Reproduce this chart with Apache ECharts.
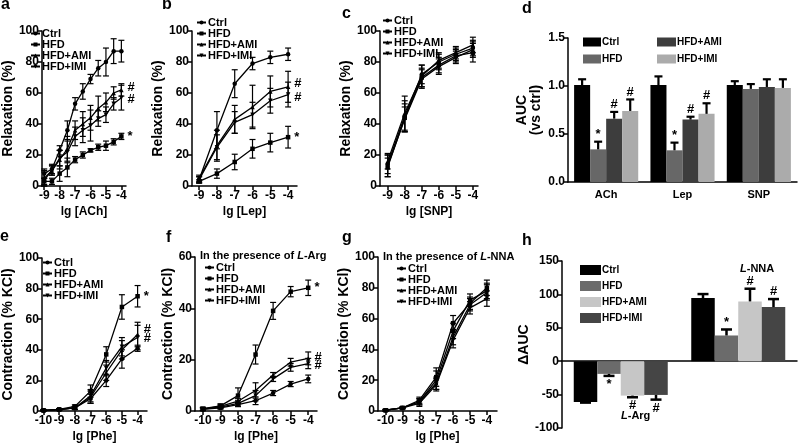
<!DOCTYPE html>
<html><head><meta charset="utf-8">
<script src="https://cdn.jsdelivr.net/npm/echarts@6/dist/echarts.min.js"></script>
<style>html,body{margin:0;padding:0;background:#fff}#c{width:800px;height:444px}</style>
</head><body><div id="c"></div>
<script>
const FONT = 'Liberation Sans';
const GROUPS = ['Ctrl', 'HFD', 'HFD+AMI', 'HFD+IMI'];

// ---- panel a (ACh) ----
const aX = [-9, -8.5, -8, -7.5, -7, -6.5, -6, -5.5, -5, -4.5, -4];
const aCtrl = [8, 11, 23, 36, 53, 61, 69, 76, 80, 87, 87];
const aCtrlErr = [3, 3, 3, 6, 4, 5, 3, 5, 9, 8, 7];
const aHFD = [3, 3, 8, 12, 17, 20, 23, 25, 26, 28.5, 32];
const aHFDErr = [2, 2, 5, 6, 2, 2, 1, 2, 3, 2, 2];
const aAMI = [5, 10, 17, 24, 36, 40, 44, 50, 54, 60, 62];
const aAMIErr = [5, 3, 6, 8, 6, 8, 8, 8, 6, 4, 4];
const aIMI = [4, 10, 18, 22, 32, 36, 39, 43.5, 46, 53, 57];
const aIMIErr = [5, 3, 5, 7, 6, 8, 10, 5, 5, 4, 8];

// ---- panel b (Lep) ----
const bX = [-9, -8, -7, -6, -5, -4];
const bCtrl = [4, 36, 66, 79, 83, 85];
const bCtrlErr = [2, 12, 9, 4, 4, 4];
const bHFD = [3, 8, 15.5, 24, 28, 31.5];
const bHFDErr = [1, 3, 5, 6, 6, 7];
const bAMI = [5, 26, 43, 51, 61, 64];
const bAMIErr = [2, 10, 9, 14, 10, 10];
const bIMI = [4, 25, 41, 46, 55, 59];
const bIMIErr = [2, 8, 7, 8, 8, 8];

// ---- panel c (SNP) ----
const cX = [-9, -8, -7, -6, -5, -4];
const cCtrl = [14, 45, 72, 80, 85, 89];
const cCtrlErr = [6, 10, 6, 5, 4, 5];
const cHFD = [12, 44, 70, 78, 84, 86];
const cHFDErr = [6, 9, 6, 5, 4, 6];
const cAMI = [16, 47, 71, 81, 86, 91];
const cAMIErr = [5, 11, 7, 5, 4, 5];
const cIMI = [13, 43, 69, 77, 83, 88];
const cIMIErr = [7, 8, 6, 5, 4, 5];

// ---- panel d (AUC bars) ----
const dCats = ['ACh', 'Lep', 'SNP'];
const dCtrl = [1.01, 1.01, 1.01];
const dCtrlErr = [0.06, 0.09, 0.04];
const dHFD = [0.34, 0.33, 0.97];
const dHFDErr = [0.08, 0.08, 0.05];
const dAMI = [0.66, 0.65, 0.99];
const dAMIErr = [0.07, 0.03, 0.08];
const dIMI = [0.74, 0.71, 0.98];
const dIMIErr = [0.12, 0.11, 0.09];
const dHFDMarks = ['*', '*', ''];
const dAMIMarks = ['#', '#', ''];
const dIMIMarks = ['#', '#', ''];

// ---- panel e (Phe) ----
const eX = [-10, -9, -8, -7, -6, -5, -4];
const eCtrl = [0.3, 0.8, 2, 8, 20, 34, 41];
const eCtrlErr = [0.5, 0.5, 1, 3, 4, 6, 2];
const eHFD = [0.5, 1, 3, 13, 37, 68, 75];
const eHFDErr = [0.5, 0.5, 1, 4, 5, 8, 7];
const eAMI = [0.3, 1, 2, 9, 25, 40, 50];
const eAMIErr = [0.5, 0.5, 1, 4, 5, 6, 8];
const eIMI = [0.3, 1, 2, 10, 28, 42, 48];
const eIMIErr = [0.5, 0.5, 1, 4, 5, 6, 8];

// ---- panel f (Phe + L-Arg) ----
const fX = [-10, -9, -8, -7, -6, -5, -4];
const fCtrl = [0.6, 1.2, 2.5, 4, 7, 10.5, 12.5];
const fCtrlErr = [0.5, 0.5, 0.8, 1.5, 1, 1, 1.5];
const fHFD = [0.9, 2, 6, 22, 39, 46.5, 48];
const fHFDErr = [0.6, 0.8, 3, 3.7, 3.3, 2, 3];
const fAMI = [0.8, 1.8, 3.8, 8, 14, 19, 20.5];
const fAMIErr = [0.5, 0.6, 1, 3, 1, 1.5, 2.5];
const fIMI = [0.7, 1.5, 3, 6, 12.5, 17, 18.5];
const fIMIErr = [0.5, 0.5, 1, 2, 1, 1.5, 2];

// ---- panel g (Phe + L-NNA) ----
const gX = [-10, -9, -8, -7, -6, -5, -4];
const gCtrl = [0.5, 2, 6, 20, 52, 72, 78];
const gCtrlErr = [0.5, 0.5, 2, 6, 5, 4, 5];
const gHFD = [0.5, 2, 7, 22, 57, 70, 80];
const gHFDErr = [0.5, 0.5, 2, 6, 5, 4, 5];
const gAMI = [0.5, 2, 6, 18, 48, 69, 77];
const gAMIErr = [0.5, 0.5, 2, 4, 5, 4, 5];
const gIMI = [0.5, 2, 5, 17, 46, 67, 73];
const gIMIErr = [0.5, 0.5, 2, 4, 5, 4, 5];

// ---- panel h (delta AUC bars) ----
const hCats = ['L-Arg', 'L-NNA'];
const hCtrl = [-61, 94.5];
const hCtrlErr = [1, 6];
const hHFD = [-19, 38.5];
const hHFDErr = [3, 9];
const hAMI = [-51.5, 89.5];
const hAMIErr = [2.5, 19];
const hIMI = [-50.5, 81];
const hIMIErr = [7, 12];
const hHFDMarks = ['*', '*'];
const hAMIMarks = ['#', '#'];
const hIMIMarks = ['#', '#'];

// ================= builders =================
const SYMS = [['circle', 0], ['rect', 0], ['triangle', 0], ['triangle', 180]];

function lineSeries(gi, p, k, xs, ys, mark, off) {
  const data = xs.map((x, i) => [x, ys[i]]);
  if (mark) {
    const l = data.length - 1;
    data[l] = { value: data[l], label: { show: true, position: 'right', distance: 4, offset: off || [0, 0],
      formatter: mark, fontFamily: FONT, fontWeight: 'bold', fontSize: 13, color: '#000' } };
  }
  return { type: 'line', name: p + ':' + GROUPS[k], xAxisIndex: gi, yAxisIndex: gi, data,
    symbol: SYMS[k][0], symbolRotate: SYMS[k][1], symbolSize: 4.5, showSymbol: true,
    lineStyle: { color: '#000', width: 1.3 }, itemStyle: { color: '#000' }, label: { show: false },
    emphasis: { disabled: true }, animation: false, z: 3 };
}
function seg(x1, y1, x2, y2, w) {
  return { type: 'line', shape: { x1, y1, x2, y2 }, style: { stroke: '#000', lineWidth: w } };
}
function errSeries(gi, xs, ys, es) {
  return { type: 'custom', xAxisIndex: gi, yAxisIndex: gi, silent: true, animation: false, z: 4,
    encode: { x: 0, y: 1 },
    data: xs.map((x, i) => [x, ys[i], es[i]]),
    renderItem: (p, api) => {
      const x = api.value(0), y = api.value(1), e = api.value(2);
      const a = api.coord([x, y + e]), b = api.coord([x, Math.max(0, y - e)]);
      const w = 3;
      return { type: 'group', children: [seg(a[0], a[1], b[0], b[1], 1.2), seg(a[0] - w, a[1], a[0] + w, a[1], 1.2), seg(b[0] - w, b[1], b[0] + w, b[1], 1.2)] };
    } };
}
function linePanel(gi, p, xs, sets, marks, offs) {
  const out = [];
  sets.forEach((s, k) => { out.push(lineSeries(gi, p, k, xs, s[0], marks[k], offs[k])); });
  sets.forEach((s) => { out.push(errSeries(gi, xs, s[0], s[1])); });
  return out;
}
function barSeries(gi, p, k, vals, color, gap) {
  return { type: 'bar', name: p + ':' + GROUPS[k], xAxisIndex: gi, yAxisIndex: gi, data: vals,
    itemStyle: { color }, barGap: '0%', barCategoryGap: gap, animation: false, emphasis: { disabled: true }, z: 2 };
}
function barErrSeries(gi, k, vals, errs, marks, gapFrac, capW, lw) {
  return { type: 'custom', xAxisIndex: gi, yAxisIndex: gi, silent: true, animation: false, z: 5,
    encode: { x: 0, y: 1 },
    data: vals.map((v, i) => [i, v, errs[i]]),
    renderItem: (p, api) => {
      const i = api.value(0), v = api.value(1), e = api.value(2);
      const band = api.size([1, 0])[0];
      const group = band * (1 - gapFrac), bw = group / 4;
      const base = api.coord([i, v]);
      const cx = base[0] - group / 2 + (k + 0.5) * bw;
      const sg = v >= 0 ? 1 : -1;
      const tip = api.coord([i, v + sg * e]);
      const ch = [seg(cx, base[1], cx, tip[1], lw), seg(cx - capW / 2, tip[1], cx + capW / 2, tip[1], lw)];
      const m = marks ? marks[p.dataIndex] : '';
      if (m) {
        ch.push({ type: 'text', style: { text: m, x: cx, y: sg > 0 ? tip[1] - 1 : tip[1] + 2,
          align: 'center', verticalAlign: sg > 0 ? 'bottom' : 'top', fill: '#000',
          font: 'bold 13px "' + FONT + '"' } });
      }
      return { type: 'group', children: ch };
    } };
}

// ================= axes =================
const axLine = { show: true, onZero: false, lineStyle: { color: '#000', width: 1.5 } };
const axTick = { show: true, length: 4, lineStyle: { color: '#000', width: 1.5 } };
const lblStyle = { color: '#000', fontFamily: FONT, fontWeight: 'bold', fontSize: 12 };
const grids = [
  { left: 27, top: 31, width: 99, height: 155 },
  { left: 192, top: 31, width: 105, height: 155 },
  { left: 380, top: 31, width: 98, height: 155 },
  { left: 568, top: 38, width: 229, height: 144 },
  { left: 33, top: 258, width: 114, height: 157 },
  { left: 195, top: 257, width: 122, height: 160 },
  { left: 378, top: 257, width: 119, height: 160 },
  { left: 562, top: 261, width: 235, height: 167 }
];
function xVal(gi, min, max, ticks, name) {
  return { type: 'value', gridIndex: gi, min, max, splitLine: { show: false },
    axisLine: axLine, axisTick: Object.assign({ customValues: ticks }, axTick),
    axisLabel: Object.assign({ customValues: ticks, margin: 4 }, lblStyle),
    name, nameLocation: 'middle', nameGap: 20,
    nameTextStyle: { color: '#000', fontFamily: FONT, fontWeight: 'bold', fontSize: 12 } };
}
function yVal(gi, min, max, interval, name, gap, fmt) {
  return { type: 'value', gridIndex: gi, min, max, interval, splitLine: { show: false },
    axisLine: Object.assign({}, axLine), axisTick: axTick,
    axisLabel: Object.assign({ margin: 3, formatter: fmt }, lblStyle),
    name, nameLocation: 'middle', nameGap: gap,
    nameTextStyle: { color: '#000', fontFamily: FONT, fontWeight: 'bold', fontSize: 14, lineHeight: 14 } };
}
const t9 = [-9, -8, -7, -6, -5, -4];
const t10 = [-10, -9, -8, -7, -6, -5, -4];
const xAxes = [
  xVal(0, -9.15, -3.7, t9, 'lg [ACh]'),
  xVal(1, -9.4, -3.5, t9, 'lg [Lep]'),
  xVal(2, -9.45, -3.7, t9, 'lg [SNP]'),
  { type: 'category', gridIndex: 3, data: dCats, axisLine: axLine, axisTick: { show: false },
    axisLabel: Object.assign({ margin: 7 }, lblStyle, { fontSize: 11 }) },
  xVal(4, -10.1, -3.4, t10, 'lg [Phe]'),
  xVal(5, -10.45, -3.5, t10, 'lg [Phe]'),
  xVal(6, -10.45, -3.4, t10, 'lg [Phe]'),
  { type: 'category', gridIndex: 7, data: hCats, axisLine: { show: true, onZero: true, lineStyle: { color: '#000', width: 1.5 } },
    axisTick: { show: false }, axisLabel: { show: false } }
];
const yAxes = [
  yVal(0, 0, 100, 20, 'Relaxation (%)', 12),
  yVal(1, 0, 100, 20, 'Relaxation (%)', 12),
  yVal(2, 0, 100, 20, 'Relaxation (%)', 15),
  yVal(3, 0, 1.5, 0.5, 'AUC\n(vs ctrl)', 25, v => v.toFixed(1)),
  yVal(4, 0, 100, 20, 'Contraction (% KCl)', 18),
  yVal(5, 0, 60, 20, 'Contraction (% KCl)', 10),
  yVal(6, 0, 100, 20, 'Contraction (% KCl)', 13),
  yVal(7, -100, 150, 50, '\u0394AUC', 17)
];

// ================= series =================
let series = [];
series = series.concat(linePanel(0, 'a', aX, [[aCtrl, aCtrlErr], [aHFD, aHFDErr], [aAMI, aAMIErr], [aIMI, aIMIErr]], ['', '*', '#', '#'], [null, null, [0, -2], [0, 2]]));
series = series.concat(linePanel(1, 'b', bX, [[bCtrl, bCtrlErr], [bHFD, bHFDErr], [bAMI, bAMIErr], [bIMI, bIMIErr]], ['', '*', '#', '#'], [null, null, [0, -3], [0, 3]]));
series = series.concat(linePanel(2, 'c', cX, [[cCtrl, cCtrlErr], [cHFD, cHFDErr], [cAMI, cAMIErr], [cIMI, cIMIErr]], ['', '', '', ''], [null, null, null, null]));
series = series.concat(linePanel(4, 'e', eX, [[eCtrl, eCtrlErr], [eHFD, eHFDErr], [eAMI, eAMIErr], [eIMI, eIMIErr]], ['', '*', '#', '#'], [null, null, [0, -5], [0, 1]]));
series = series.concat(linePanel(5, 'f', fX, [[fCtrl, fCtrlErr], [fHFD, fHFDErr], [fAMI, fAMIErr], [fIMI, fIMIErr]], ['', '*', '#', '#'], [null, null, [0, -1], [0, 2]]));
series = series.concat(linePanel(6, 'g', gX, [[gCtrl, gCtrlErr], [gHFD, gHFDErr], [gAMI, gAMIErr], [gIMI, gIMIErr]], ['', '', '', ''], [null, null, null, null]));

const dColors = ['#000000', '#676767', '#3d3d3d', '#ababab'];
const hColors = ['#000000', '#6b6b6b', '#c6c6c6', '#454545'];
const dSets = [[dCtrl, dCtrlErr, null], [dHFD, dHFDErr, dHFDMarks], [dAMI, dAMIErr, dAMIMarks], [dIMI, dIMIErr, dIMIMarks]];
const hSets = [[hCtrl, hCtrlErr, null], [hHFD, hHFDErr, hHFDMarks], [hAMI, hAMIErr, hAMIMarks], [hIMI, hIMIErr, hIMIMarks]];
dSets.forEach((s, k) => { series.push(barSeries(3, 'd', k, s[0], dColors[k], '16%')); });
dSets.forEach((s, k) => { series.push(barErrSeries(3, k, s[0], s[1], s[2], 0.16, 8, 2.2)); });
hSets.forEach((s, k) => { series.push(barSeries(7, 'h', k, s[0], hColors[k], '20%')); });
hSets.forEach((s, k) => { series.push(barErrSeries(7, k, s[0], s[1], s[2], 0.20, 11, 2.5)); });

// ================= legends =================
const strip = n => n.slice(2);
function lineLegend(p, left, top) {
  return { left, top, orient: 'vertical', selectedMode: false, padding: 0, itemGap: 0,
    itemWidth: 9, itemHeight: 5, formatter: strip, data: GROUPS.map(g => p + ':' + g),
    textStyle: { color: '#000', fontFamily: FONT, fontWeight: 'bold', fontSize: 11, lineHeight: 10, padding: [0, 0, 0, -3] } };
}
function barLegend(p, groups, left, top, w, h, gap) {
  return { left, top, orient: 'vertical', selectedMode: false, padding: 0, itemGap: gap, icon: 'rect',
    itemWidth: w, itemHeight: h, formatter: strip, data: groups.map(g => p + ':' + g),
    textStyle: { color: '#000', fontFamily: FONT, fontWeight: 'bold', fontSize: 10, padding: [0, 0, 0, -4] } };
}
const legends = [
  lineLegend('a', 30, 28), lineLegend('b', 196, 17), lineLegend('c', 382, 15),
  lineLegend('e', 42, 257), lineLegend('f', 204, 262), lineLegend('g', 396, 263),
  barLegend('d', ['Ctrl', 'HFD'], 583, 37, 18, 9, 7),
  barLegend('d', ['HFD+AMI', 'HFD+IMI'], 657, 37, 19, 9, 7),
  barLegend('h', GROUPS, 580, 265, 21, 10, 6)
];

// ================= titles =================
function T(text, left, top, size, weight) {
  return { text, left, top, padding: 0, textStyle: { color: '#000', fontFamily: FONT, fontWeight: weight || 'bold', fontSize: size,
    rich: { i: { fontStyle: 'italic', fontFamily: FONT, fontWeight: weight || 'bold', fontSize: size, color: '#000' } } } };
}
const titles = [
  T('a', 1, -3, 16), T('b', 162, -3, 16), T('c', 342, 6, 16), T('d', 522, 1, 16),
  T('e', 0, 229, 16), T('f', 166, 230, 16), T('g', 342, 230, 16), T('h', 522, 233, 16),
  T('In the presence of {i|L}-Arg', 200, 250, 11), T('In the presence of {i|L}-NNA', 383, 251, 11),
  T('{i|L}-NNA', 740, 263, 11), T('{i|L}-Arg', 621, 410, 11)
];

const chart = echarts.init(document.getElementById('c'), null, { renderer: 'canvas' });
chart.setOption({
  backgroundColor: '#fff', animation: false,
  textStyle: { fontFamily: FONT },
  title: titles, legend: legends, grid: grids, xAxis: xAxes, yAxis: yAxes, series
});
</script></body></html>
